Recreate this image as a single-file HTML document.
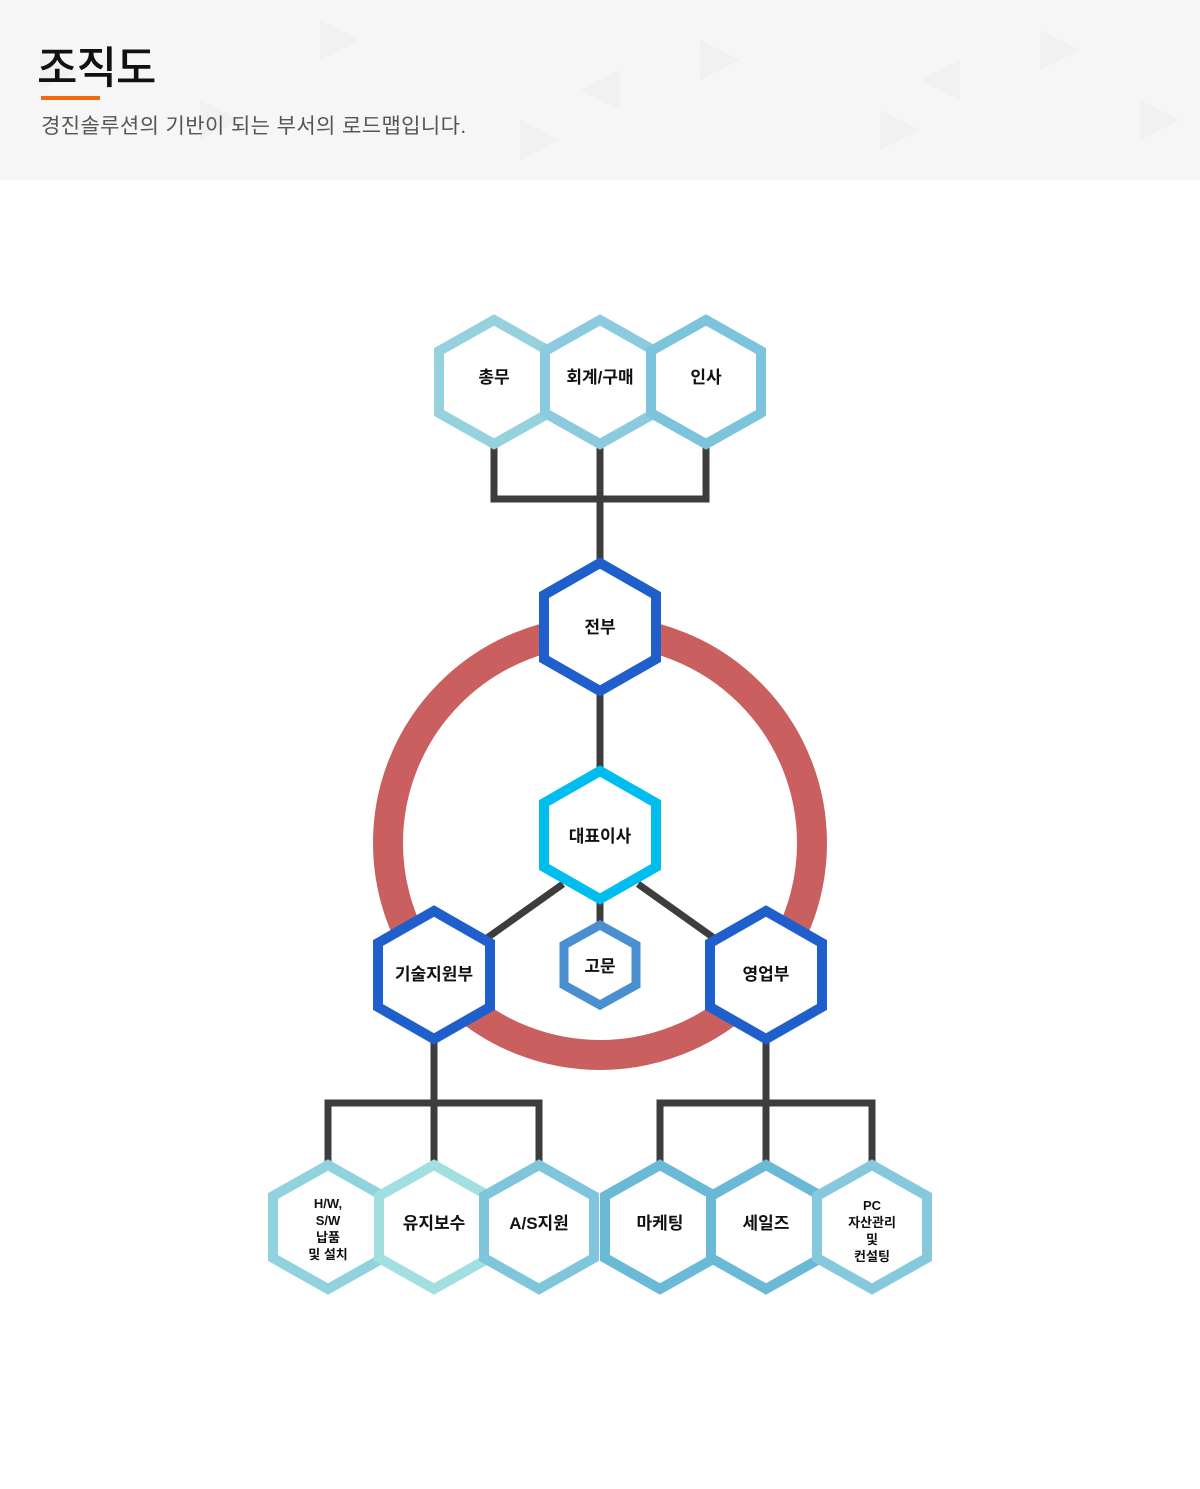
<!DOCTYPE html>
<html><head><meta charset="utf-8"><style>
body{margin:0;width:1200px;height:1489px;background:#fff;position:relative;overflow:hidden;font-family:"Liberation Sans","Noto Sans CJK KR",sans-serif}
.hd{position:absolute;left:0;top:0;width:1200px;height:180px;background:#f6f6f6}
.t{position:absolute;left:37px;top:32px;font-size:44px;font-weight:500;color:#111;letter-spacing:-1px}
.ln{position:absolute;left:41px;top:96px;width:59px;height:4px;background:#f26a10}
.s{position:absolute;left:41px;top:110px;font-size:21px;color:#555;letter-spacing:0.4px}
svg{position:absolute;left:0;top:0}
text{font-family:"Liberation Sans","Noto Sans CJK KR",sans-serif;font-weight:bold;fill:#111;text-anchor:middle}
</style></head><body>
<div class="hd">
<svg width="1200" height="180" style="opacity:.4">
<g fill="#ececec">
<polygon points="40,50 80,70 40,90"/><polygon points="200,100 240,120 200,140"/><polygon points="320,20 360,40 320,60"/><polygon points="520,120 560,140 520,160"/><polygon points="700,40 740,60 700,80"/><polygon points="880,110 920,130 880,150"/><polygon points="1040,30 1080,50 1040,70"/><polygon points="1140,100 1180,120 1140,140"/><polygon points="620,70 580,90 620,110"/><polygon points="960,60 920,80 960,100"/>
</g></svg>
<div class="t">조직도</div><div class="ln"></div>
<div class="s">경진솔루션의 기반이 되는 부서의 로드맵입니다.</div>
</div>
<svg width="1200" height="1489">
<circle cx="600" cy="843" r="212" fill="none" stroke="#c95f5f" stroke-width="30"/>
<g stroke="#3d3d3d" stroke-width="7" fill="none">
<path d="M494 440V499H706V440M600 440V565M600 690V772M563 884L487 938M638 884L714 938M600 900V925"/>
<path d="M434 1040V1103M328 1170V1103H539V1170M434 1103V1170"/>
<path d="M766 1040V1103M660 1170V1103H872V1170M766 1103V1170"/>
</g>
<g fill="#fff" stroke-width="10">
<polygon stroke="#96d2dd" points="494,320 549,351 549,413 494,444 439,413 439,351"/>
<polygon stroke="#8ccbdf" points="600,320 655,351 655,413 600,444 545,413 545,351"/>
<polygon stroke="#7cc3dc" points="706,320 761,351 761,413 706,444 651,413 651,351"/>
<polygon stroke="#1f5fcc" points="600,563 656,595 656,659 600,691 544,659 544,595"/>
<polygon stroke="#00bdef" points="600,771 656,803 656,867 600,899 544,867 544,803"/>
<polygon stroke="#1f5fcc" points="434,911 490,943 490,1007 434,1039 378,1007 378,943"/>
<polygon stroke="#1f5fcc" points="766,911 822,943 822,1007 766,1039 710,1007 710,943"/>
<polygon stroke="#4a8fd0" stroke-width="9" points="600,925 636,945 636,985 600,1005 564,985 564,945"/>
<polygon stroke="#90d2de" points="328,1165 383,1196 383,1258 328,1289 273,1258 273,1196"/>
<polygon stroke="#a2dfe0" points="434,1165 489,1196 489,1258 434,1289 379,1258 379,1196"/>
<polygon stroke="#7fc5dc" points="539,1165 594,1196 594,1258 539,1289 484,1258 484,1196"/>
<polygon stroke="#6ab9d7" points="660,1165 715,1196 715,1258 660,1289 605,1258 605,1196"/>
<polygon stroke="#6ab9d7" points="766,1165 821,1196 821,1258 766,1289 711,1258 711,1196"/>
<polygon stroke="#86c8dc" points="872,1165 927,1196 927,1258 872,1289 817,1258 817,1196"/>
</g>
<g font-size="17">
<text x="494" y="383">총무</text><text x="600" y="383">회계/구매</text><text x="706" y="383">인사</text>
<text x="600" y="633">전부</text><text x="600" y="842">대표이사</text>
<text x="434" y="980">기술지원부</text><text x="766" y="980">영업부</text>
<text x="600" y="972">고문</text>
<text x="434" y="1229">유지보수</text><text x="539" y="1229">A/S지원</text>
<text x="660" y="1229">마케팅</text><text x="766" y="1229">세일즈</text>
</g>
<g font-size="13">
<text x="328" y="1208">H/W,</text><text x="328" y="1225">S/W</text><text x="328" y="1242">납품</text><text x="328" y="1259">및 설치</text>
<text x="872" y="1210">PC</text><text x="872" y="1227">자산관리</text><text x="872" y="1244">및</text><text x="872" y="1261">컨설팅</text>
</g>
</svg>
</body></html>
